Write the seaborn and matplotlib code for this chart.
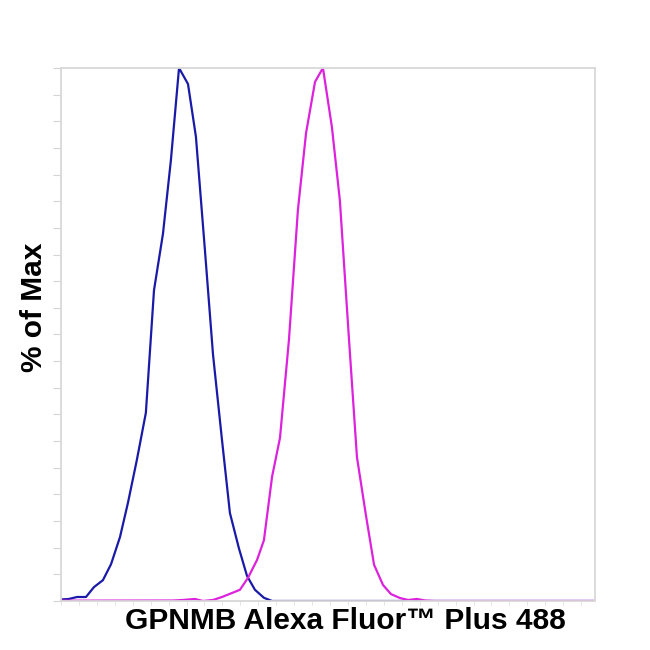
import numpy as np
import pandas as pd
import matplotlib
matplotlib.use("Agg")
import matplotlib.pyplot as plt
import seaborn as sb

# channel values (0-256 display scale) and % of max
blue_x = [0, 3.8, 7.7, 12.0, 15.8, 20.1, 24.0, 28.3, 32.1, 36.4, 40.7, 44.6, 48.9,
          52.7, 56.6, 60.9, 64.7, 69.0, 72.9, 77.2, 81.0, 85.3, 89.2, 93.0, 97.3,
          101.2, 256]
blue_y = [0.28, 0.38, 0.75, 0.75, 2.6, 3.9, 6.9, 12.0, 18.4, 26.5, 35.3, 58.3, 68.9,
          82.7, 100, 97.0, 87.1, 65.9, 46.2, 30.2, 16.5, 9.9, 4.7, 2.1, 0.6,
          0, 0]

pink_x = [0, 53.7, 58.5, 64.2, 68.1, 72.9, 77.2, 82.0, 85.8, 89.6, 94.0, 97.3,
          101.2, 105.0, 109.3, 113.6, 117.5, 121.8, 125.6, 129.9, 133.7, 138.1,
          141.9, 146.2, 150.1, 154.4, 158.2, 162.5, 166.4, 170.7, 174.5, 178.8, 256]
pink_y = [0.06, 0.09, 0.19, 0.38, 0, 0.19, 0.75, 1.5, 2.1, 4.3, 7.7, 11.4,
          23.3, 30.6, 49.0, 73.4, 87.8, 97.4, 100, 88.9, 75.2, 49.0,
          27.0, 16.1, 6.8, 3.0, 1.3, 0.56, 0.19, 0.38, 0.09, 0, 0]

sb.set_style("white")
plt.rcParams['font.family'] = ['Liberation Sans', 'DejaVu Sans']

fig = plt.figure(figsize=(6.5, 6.5), dpi=100)
ax = fig.add_axes([0.0938, 0.0754, 0.8215, 0.82])

d1 = pd.DataFrame({'x': blue_x, 'y': blue_y})
d2 = pd.DataFrame({'x': pink_x, 'y': pink_y})
sb.lineplot(data=d1, x='x', y='y', color='#1a1aa8', linewidth=1.6, sort=False, ax=ax)
sb.lineplot(data=d2, x='x', y='y', color='#dc22dc', linewidth=1.6, sort=False, ax=ax)

ax.set_xlim(0, 256)
ax.set_ylim(0, 100)
for s in ax.spines.values():
    s.set_color('#d8d8d8')
    s.set_linewidth(1.3)

ax.set_yticks(np.arange(0, 101, 5))
ax.set_yticklabels([])
ax.tick_params(axis='y', direction='out', length=6, width=0.8, color='#d4d4d4', left=True)
ax.set_xticks(np.arange(0, 257, 8.6))
ax.set_xticklabels([])
ax.tick_params(axis='x', direction='out', length=3, width=0.7, color='#e4e4e4', bottom=True)

ax.set_xlabel('GPNMB Alexa Fluor\u2122 Plus 488', fontsize=21.5, fontweight='bold', color='black')
ax.xaxis.set_label_coords(0.532, -0.011)
ax.set_ylabel('% of Max', fontsize=21.5, fontweight='bold', color='black')
ax.yaxis.set_label_coords(-0.024, 0.551)

plt.savefig('out.png', dpi=100)
